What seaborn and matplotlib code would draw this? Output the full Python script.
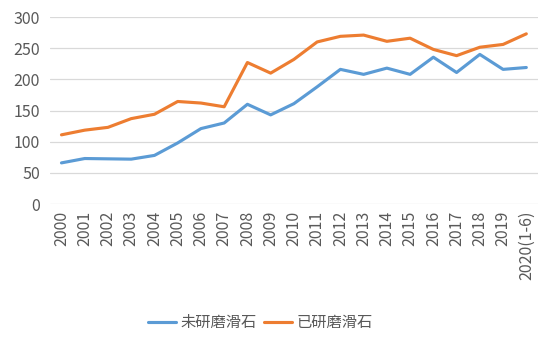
import matplotlib
matplotlib.use("Agg")
import matplotlib.pyplot as plt
import seaborn as sns
import pandas as pd

years = ["2000", "2001", "2002", "2003", "2004", "2005", "2006", "2007", "2008", "2009",
         "2010", "2011", "2012", "2013", "2014", "2015", "2016", "2017", "2018", "2019",
         "2020(1-6)"]
unground = [66, 73, 72.5, 72, 78, 98, 121, 130, 160, 143,
            161, 188, 216, 208, 218, 208, 235.5, 211, 240, 216, 219]
ground = [111, 118.5, 123, 137, 144, 164.5, 162, 156, 227, 210,
          232, 260, 269, 271, 261, 266, 248, 238, 251.5, 256, 273]
series_names = ["未研磨滑石", "已研磨滑石"]

sns.set_theme(style="white")
plt.rcParams['font.family'] = ['Noto Sans CJK SC', 'DejaVu Sans']

df = pd.DataFrame({
    "year": years * 2,
    "pos": list(range(len(years))) * 2,
    "value": unground + ground,
    "series": [series_names[0]] * len(years) + [series_names[1]] * len(years),
})

fig = plt.figure(figsize=(5.54, 3.47), dpi=100)
ax = fig.add_axes([0.09, 0.412, 0.881, 0.539])
sns.lineplot(data=df, x="pos", y="value", hue="series", hue_order=series_names,
             palette=["#5B9BD5", "#ED7D31"], linewidth=2.25, ax=ax, legend=True)

ax.set_xlim(-0.5, len(years) - 0.5)
ax.set_ylim(0, 300)
ax.set_yticks(range(0, 301, 50))
ax.set_xticks(range(len(years)))
ax.set_xticklabels(years, rotation=90, fontsize=11.5, color="#595959")
ax.tick_params(axis="y", labelsize=11.5, labelcolor="#595959", length=0, pad=7)
ax.tick_params(axis="x", length=0, pad=5)
ax.set_xlabel("")
ax.set_ylabel("")
ax.grid(axis="y", color="#D9D9D9", linewidth=0.9)
ax.set_axisbelow(True)
for s in ax.spines.values():
    s.set_visible(False)

handles, labels = ax.get_legend_handles_labels()
ax.legend_.remove()
fig.legend(handles, labels, loc="center", bbox_to_anchor=(0.47, 0.07), ncol=2,
           frameon=False, fontsize=11, handlelength=1.8, columnspacing=0.5,
           handletextpad=0.3, labelcolor="#595959")

fig.savefig("out.png", dpi=100)
